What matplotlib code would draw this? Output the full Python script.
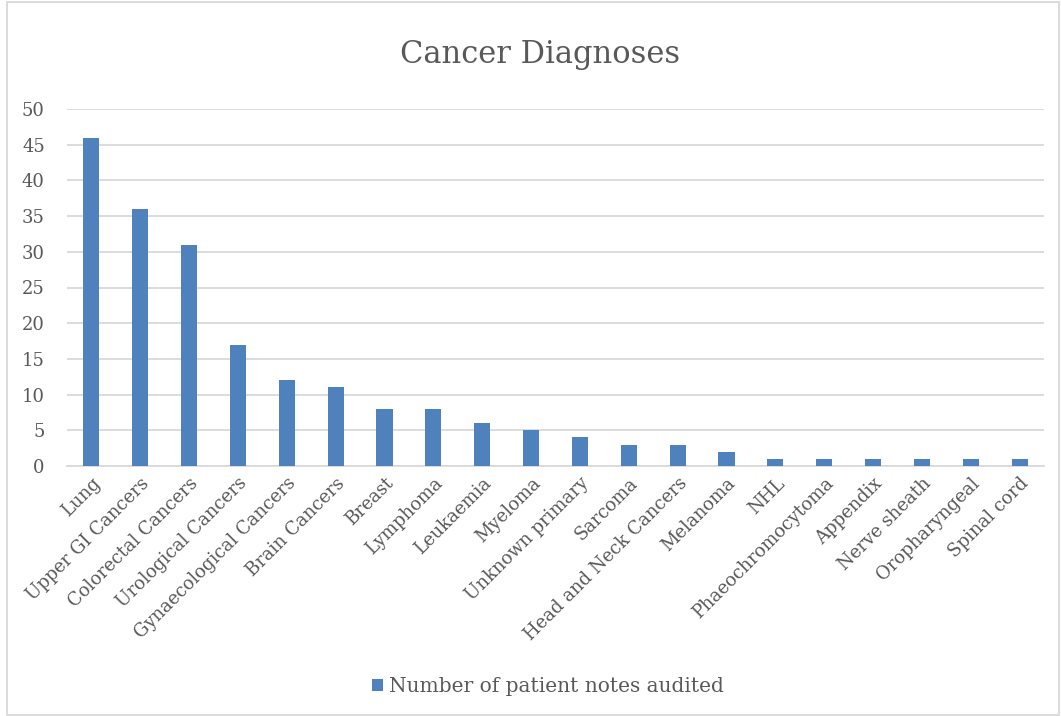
import matplotlib
matplotlib.use("Agg")
import matplotlib.pyplot as plt
from matplotlib.patches import Rectangle
import numpy as np

categories = [
    "Lung", "Upper GI Cancers", "Colorectal Cancers", "Urological Cancers",
    "Gynaecological Cancers", "Brain Cancers", "Breast", "Lymphoma",
    "Leukaemia", "Myeloma", "Unknown primary", "Sarcoma",
    "Head and Neck Cancers", "Melanoma", "NHL", "Phaeochromocytoma",
    "Appendix", "Nerve sheath", "Oropharyngeal", "Spinal cord",
]
notes_audited = [46, 36, 31, 17, 12, 11, 8, 8, 6, 5, 4, 3, 3, 2, 1, 1, 1, 1, 1, 1]
series_name = "Number of patient notes audited"
y_ticks = [0, 5, 10, 15, 20, 25, 30, 35, 40, 45, 50]

text_color = "#595959"
bar_color = "#4F81BD"
grid_color = "#D9D9D9"
plt.rcParams["font.family"] = ["DejaVu Serif"]

W, H = 1061, 716
fig = plt.figure(figsize=(W / 100, H / 100), dpi=100)
ax = fig.add_axes([67 / W, 1 - 466 / H, (1044 - 67) / W, (466 - 109) / H])

x = np.arange(len(categories))
ax.bar(x, notes_audited, width=0.33, color=bar_color, label=series_name, zorder=3)

ax.set_xlim(-0.5, len(categories) - 0.5)
ax.set_ylim(0, 50)
ax.set_yticks(y_ticks)
ax.set_yticklabels([str(t) for t in y_ticks], fontsize=13, color=text_color)
ax.yaxis.grid(True, color=grid_color, linewidth=1.3, zorder=0)
ax.tick_params(axis="y", length=0, pad=16)
ax.tick_params(axis="x", length=0, pad=6)
for side in ["top", "right", "left"]:
    ax.spines[side].set_visible(False)
ax.spines["bottom"].set_color(grid_color)
ax.spines["bottom"].set_linewidth(1.3)

ax.set_xticks(x)
ax.set_xticklabels(categories, rotation=45, ha="right", rotation_mode="anchor",
                   fontsize=13, color=text_color)

fig.text(540 / W, 1 - 55 / H, "Cancer Diagnoses", ha="center", va="center",
         fontsize=22, color=text_color)

fig.legend(loc="center", bbox_to_anchor=(548 / W, 1 - 687 / H), frameon=False,
           fontsize=14.5, labelcolor=text_color, handlelength=0.55, handleheight=0.55,
           handletextpad=0.3)

fig.patches.append(Rectangle((7 / W, 1 / H), (W - 9) / W, (H - 3) / H,
                             transform=fig.transFigure, fill=False,
                             edgecolor=grid_color, linewidth=1.3))

fig.savefig("out.png", dpi=100)
